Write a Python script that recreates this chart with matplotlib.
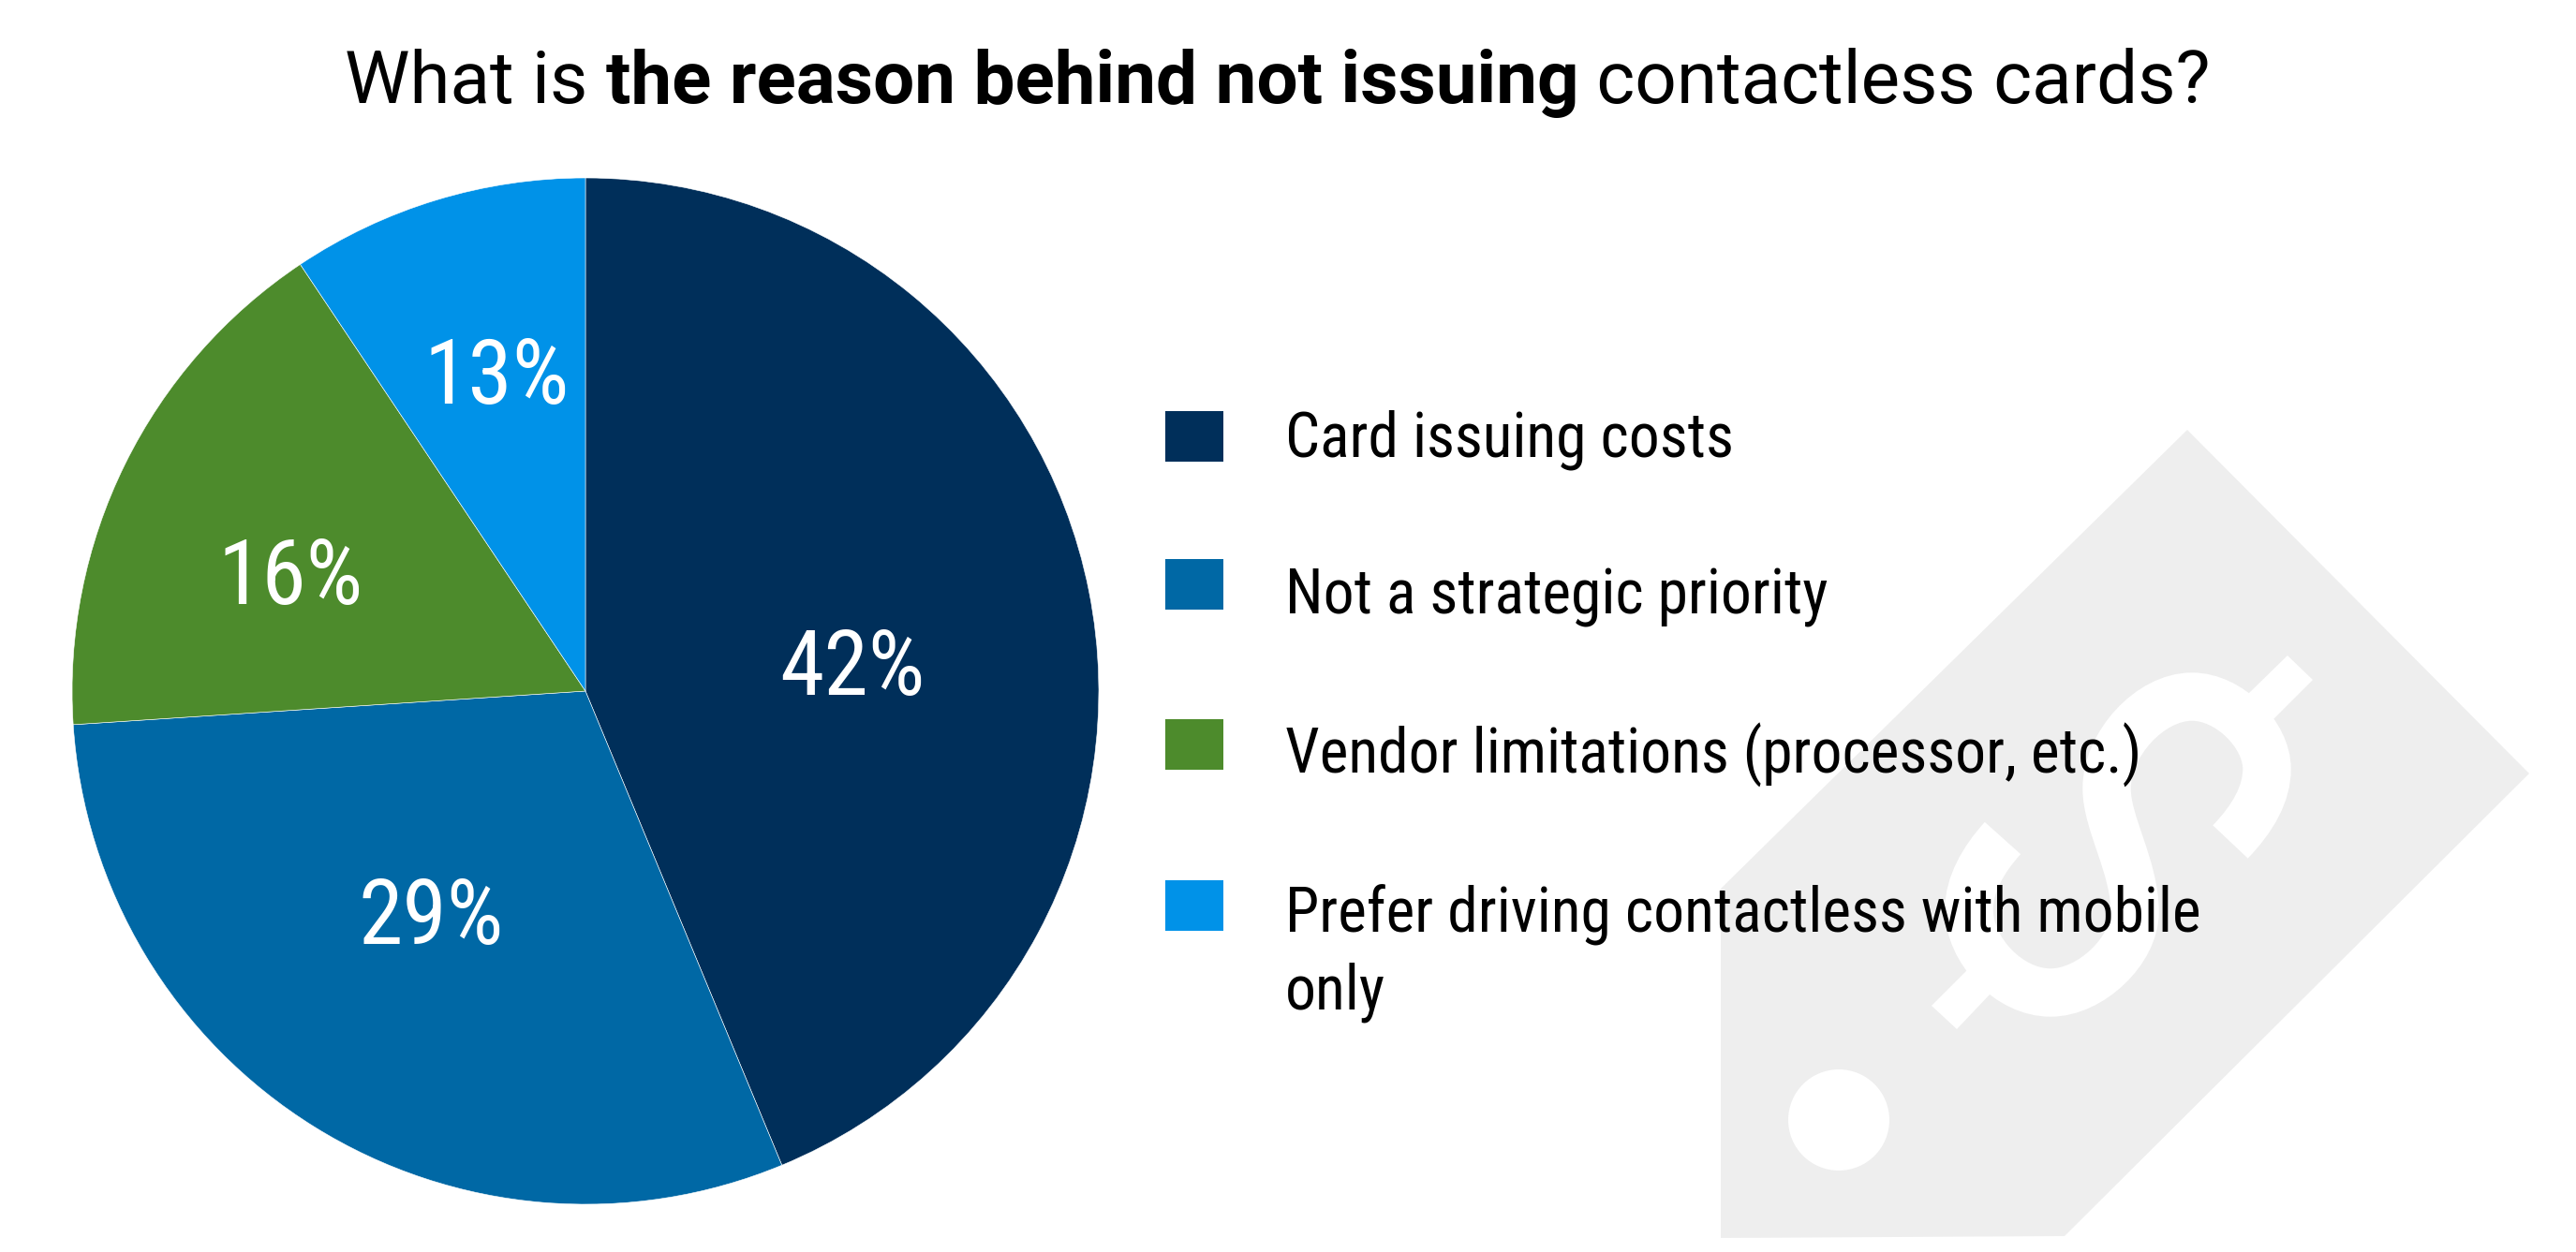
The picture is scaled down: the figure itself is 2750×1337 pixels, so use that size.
import matplotlib
matplotlib.use('Agg')
import matplotlib.pyplot as plt
from matplotlib.patches import Circle, PathPatch, Polygon, Rectangle
from matplotlib.path import Path

# what the slices are drawn from; the last label does not match its slice in the original
categories = ['Card issuing costs', 'Not a strategic priority',
              'Vendor limitations (processor, etc.)',
              'Prefer driving contactless with mobile\nonly']
slice_values = [42, 29, 16, 9]
slice_labels = ['42%', '29%', '16%', '13%']
colors = ['#002F5A', '#0068A5', '#4D8B2C', '#0092E8']

W, H = 2750, 1337
CONDENSED = ['Roboto Condensed', 'Liberation Sans Narrow', 'Roboto']
TAG_GREY = '#EEEEEE'


def draw_tag(ax):
    # price tag watermark, in pixel coordinates
    ax.add_patch(Polygon([(2335, 459), (2700, 826), (2204, 1320), (1837, 1322), (1837, 949)],
                         closed=True, fc=TAG_GREY, ec='none'))
    ax.add_patch(Circle((1963, 1196), 54, fc='white', ec='none'))
    ax.add_patch(Polygon([(2399, 742), (2442, 700), (2469, 726), (2426, 769)], fc='white', ec='none'))
    ax.add_patch(Polygon([(2101, 1035), (2062, 1074), (2089, 1099), (2126, 1060)], fc='white', ec='none'))
    verts = [(2381, 899),
             (2405, 874), (2420, 848), (2420, 821),
             (2420, 785), (2380, 744), (2340, 744),
             (2295, 744), (2249, 795), (2249, 842),
             (2249, 880), (2279, 925), (2279, 974),
             (2279, 1015), (2232, 1060), (2189, 1060),
             (2145, 1060), (2102, 1015), (2102, 971),
             (2102, 945), (2117, 918), (2138, 895)]
    codes = [Path.MOVETO] + [Path.CURVE4] * (len(verts) - 1)
    ax.add_patch(PathPatch(Path(verts, codes), fc='none', ec='white', lw=37, capstyle='butt'))


def draw_title(fig, ax):
    # one line in two weights, so each run is placed after the one before
    x = 368
    renderer = fig.canvas.get_renderer()
    for txt, weight in [('What is ', 'normal'), ('the reason behind not issuing', 'bold'),
                        (' contactless cards?', 'normal')]:
        t = ax.text(x, 110, txt.replace(' ', '\u00a0'), family='Roboto', fontweight=weight,
                    fontsize=56.3, color='black', va='baseline', ha='left')
        x = t.get_window_extent(renderer).x1


def draw_legend(ax):
    box_tops = [439, 597, 768, 940]
    # the last entry has two lines and is anchored on its lower one
    baselines = [487, 655, 826, 1077]
    for top, base, col, cat in zip(box_tops, baselines, colors, categories):
        ax.add_patch(Rectangle((1244, top), 62, 54, fc=col, ec='none'))
        ax.text(1372, base, cat, family=CONDENSED, fontsize=47.2, color='black',
                va='baseline', ha='left', linespacing=1.34)


def main():
    fig = plt.figure(figsize=(W / 100, H / 100), dpi=100, facecolor='white')

    # full figure axes in pixels for everything that is not the pie
    bg = fig.add_axes([0, 0, 1, 1], zorder=0)
    bg.set_xlim(0, W)
    bg.set_ylim(H, 0)
    bg.axis('off')
    draw_tag(bg)
    draw_title(fig, bg)

    # pie centre (625, 738), radius 548
    ax = fig.add_axes([(625 - 548) / W, 1 - (738 + 548) / H, 2 * 548 / W, 2 * 548 / H], zorder=1)
    ax.pie(slice_values, colors=colors, startangle=90, counterclock=False, radius=1,
           wedgeprops={'edgecolor': 'white', 'linewidth': 0.4})
    ax.set_xlim(-1, 1)
    ax.set_ylim(-1, 1)
    label_pos = [(0.52, 0.04), (-0.30, -0.445), (-0.574, 0.218), (-0.174, 0.607)]
    for (lx, ly), lab in zip(label_pos, slice_labels):
        ax.text(lx, ly, lab, family=CONDENSED, fontsize=69, color='white', ha='center', va='center')

    top = fig.add_axes([0, 0, 1, 1], zorder=2)
    top.set_xlim(0, W)
    top.set_ylim(H, 0)
    top.axis('off')
    top.patch.set_alpha(0)
    draw_legend(top)

    fig.savefig('out.png', dpi=100)


if __name__ == '__main__':
    main()
